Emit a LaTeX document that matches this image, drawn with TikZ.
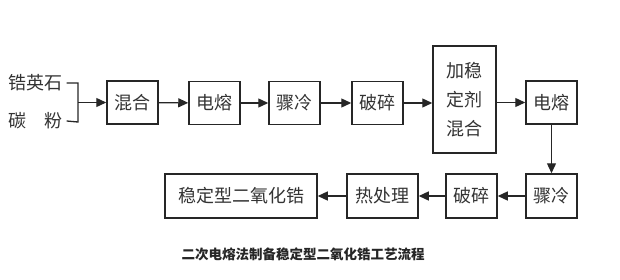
\documentclass[tikz,border=0pt]{standalone}
\usepackage{fontspec}
\newfontfamily\cjk{Noto Sans CJK SC}
\usetikzlibrary{arrows.meta}
\begin{document}
\begin{tikzpicture}[x=1pt,y=-1pt,
  box/.style={draw=black!85,line width=1.5pt,inner sep=0pt,minimum height=43pt,font=\cjk\fontsize{18}{29}\selectfont,text=black!80,align=center},
  lbl/.style={inner sep=0pt,font=\cjk\fontsize{18}{20}\selectfont,text=black!80},
  flow/.style={draw=black!85,line width=1.3pt,-{Triangle[length=10pt,width=9pt]}},
  brk/.style={draw=black!85,line width=1.3pt}]
\useasboundingbox (0,0) rectangle (620,279);
\node[lbl] (zr) at (35.5,83) {锆英石};
\node[lbl] (c) at (35.5,121) {碳\hspace{1em}粉};
\coordinate (b1) at (78,83);
\coordinate (b2) at (78,122);
\coordinate (bm) at (78,102.5);
\node[box,minimum width=51pt] (mix) at (132.5,102.5) {混合};
\node[box,minimum width=51pt] (melt1) at (214.5,103) {电熔};
\node[box,minimum width=51pt] (q1) at (294.5,103) {骤冷};
\node[box,minimum width=51pt] (cr1) at (377.5,103) {破碎};
\node[box,minimum width=63pt,minimum height=107pt] (stab) at (464.5,99.5) {加稳\\定剂\\混合};
\node[box,minimum width=51pt] (melt2) at (551.5,102.5) {电熔};
\node[box,minimum width=51pt,minimum height=44pt] (q2) at (551.5,196) {骤冷};
\node[box,minimum width=51pt,minimum height=44pt] (cr2) at (471.5,196) {破碎};
\node[box,minimum width=71pt,minimum height=44pt] (heat) at (382.5,196) {热处理};
\node[box,minimum width=152pt,minimum height=44pt] (prod) at (241,196) {稳定型二氧化锆};
\node[inner sep=0pt,font=\cjk\bfseries\fontsize{13.5}{16}\selectfont,text=black!85] (cap) at (303,254) {二次电熔法制备稳定型二氧化锆工艺流程};
\draw[brk] (zr.east) ++(4pt,0) -- (b1) -- (b2) -- ([xshift=4pt]c.east);
\draw[flow] (bm) -- (mix.west);
\draw[flow] (mix) -- (melt1);
\draw[flow] (melt1) -- (q1);
\draw[flow] (q1) -- (cr1);
\draw[flow] (cr1.east) -- (stab.west |- cr1.east);
\draw[flow] (stab.east |- melt2.west) -- (melt2.west);
\draw[flow] (melt2) -- (q2);
\draw[flow] (q2) -- (cr2);
\draw[flow] (cr2) -- (heat);
\draw[flow] (heat) -- (prod);
\end{tikzpicture}
\end{document}
